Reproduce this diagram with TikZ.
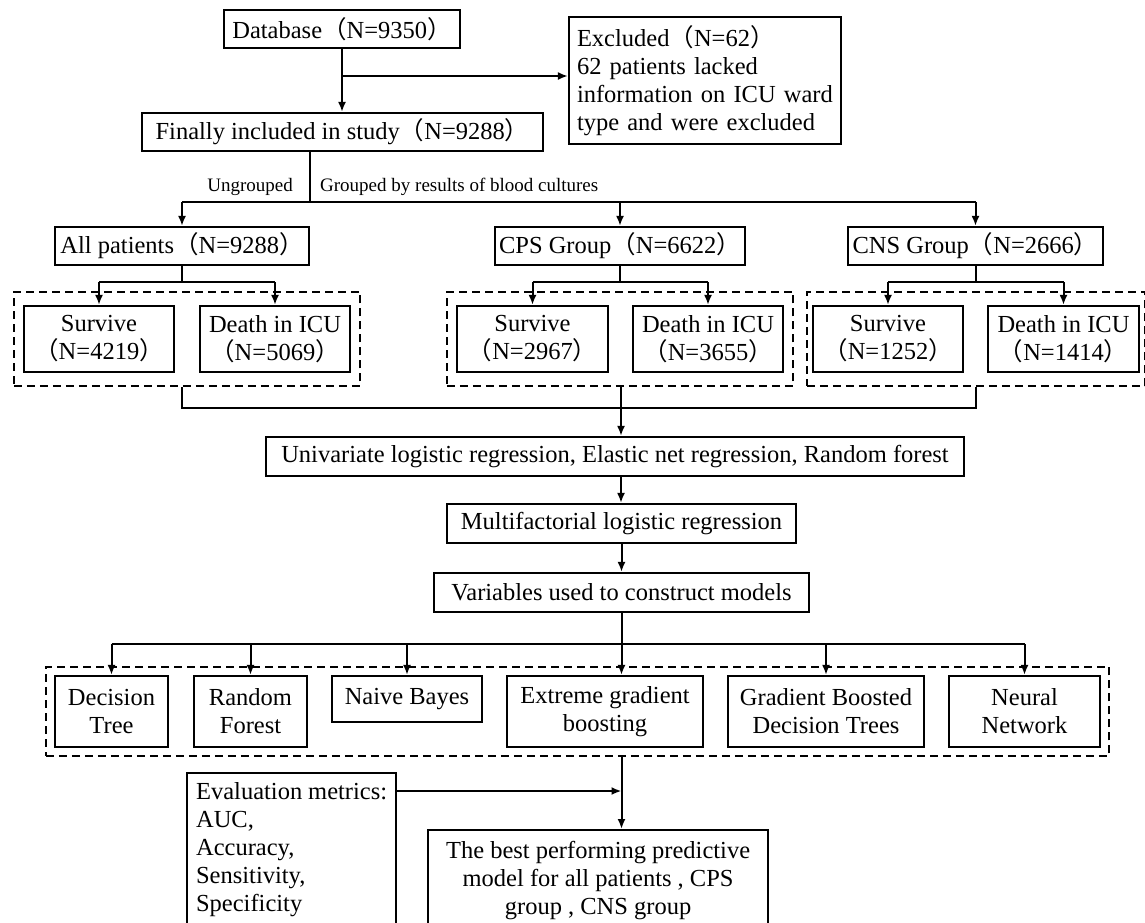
\documentclass[tikz,border=0pt]{standalone}
\usepackage{fontspec}
\setmainfont{Liberation Serif}
\newfontfamily\cjkfont{Noto Sans CJK SC}
\newcommand{\flp}{{\cjkfont （}}
\newcommand{\frp}{{\cjkfont ）}}
\usepackage{tikz}
\usetikzlibrary{arrows.meta}
\usetikzlibrary{fit}

\begin{document}
\begin{tikzpicture}[x=1pt,y=-1pt,
   box/.style={draw,rectangle,line width=2.2pt,inner sep=0pt,align=center,
     font=\fontsize{24.5}{28}\selectfont},
   outcome/.style={box,minimum width=150pt,minimum height=66pt},
   model/.style={box,minimum height=71pt},
   groupbox/.style={draw,rectangle,line width=1.8pt,dash pattern=on 8pt off 5pt,
     inner xsep=9pt,inner ysep=13pt},
   link/.style={line width=2pt},
   arr/.style={link,-{Latex[length=10pt,width=8pt]}},
   note/.style={font=\fontsize{19}{22}\selectfont,inner sep=0pt}]
\path[fill=white,use as bounding box] (0,0) rectangle (1145,922);
\clip (0,0) rectangle (1145,922);

\node[box,minimum width=236pt,minimum height=38pt] (db) at (342,29) {Database\flp N=9350\frp};
\node[box,align=left,text width=256pt,inner sep=8pt,minimum height=123pt] (excl) at (705,80.5)
   {Excluded\flp N=62\frp\\62 patients lacked\\information on ICU ward\\type and were excluded};
\node[box,minimum width=401pt,minimum height=38pt] (fin) at (342.5,132) {Finally included in study\flp N=9288\frp};

\node[note,anchor=east] (ungr) at (293,187) {Ungrouped};
\node[note,anchor=west] (grpd) at (320,187) {Grouped by results of blood cultures};

% groups
\node[box,minimum width=254pt,minimum height=38pt] (all) at (182,246) {All patients\flp N=9288\frp};
\node[box,minimum width=250pt,minimum height=38pt] (cps) at (620,246) {CPS Group\flp N=6622\frp};
\node[box,minimum width=255pt,minimum height=38pt] (cns) at (975.5,246) {CNS Group\flp N=2666\frp};

\node[outcome] (s1) at (99,339) {Survive\\\flp N=4219\frp};
\node[outcome] (d1) at (275,339) {Death in ICU\\\flp N=5069\frp};
\node[outcome,minimum width=151pt] (s2) at (532.5,339) {Survive\\\flp N=2967\frp};
\node[outcome] (d2) at (708,339) {Death in ICU\\\flp N=3655\frp};
\node[outcome] (s3) at (888,339) {Survive\\\flp N=1252\frp};
\node[outcome,minimum width=151pt] (d3) at (1063.5,339) {Death in ICU\\\flp N=1414\frp};

\node[groupbox,fit=(s1)(d1)] (grp1) {};
\node[groupbox,fit=(s2)(d2)] (grp2) {};
\node[groupbox,fit=(s3)(d3),inner xsep=5pt] (grp3) {};

% selection
\node[box,minimum width=698pt,minimum height=39pt] (uni) at (615,456.5)
   {Univariate logistic regression, Elastic net regression, Random forest};
\node[box,minimum width=349pt,minimum height=39pt] (multi) at (621.5,523.5) {Multifactorial logistic regression};
\node[box,minimum width=375pt,minimum height=39pt] (vars) at (621.5,592.5) {Variables used to construct models};

% models
\node[model,minimum width=113pt] (dt) at (111.5,711.5) {Decision\\Tree};
\node[model,minimum width=113pt] (rf) at (250.5,711.5) {Random\\Forest};
\node[box,minimum width=150pt,minimum height=46pt] (nb) at (407,699) {Naive Bayes};
\node[model,minimum width=196pt] (xgb) at (605,711.5) {Extreme gradient\\boosting};
\node[model,minimum width=196pt] (gbdt) at (826,711.5) {Gradient Boosted\\Decision Trees};
\node[model,minimum width=151pt] (nn) at (1024.5,711.5) {Neural\\Network};
\node[groupbox,fit=(dt)(nn),inner xsep=8pt,inner ysep=8pt] (grp4) {};

\node[box,anchor=north west,inner sep=9pt] (eval) at (186,772)
   {\begin{minipage}[t][170pt][t]{191pt}\raggedright
    Evaluation metrics:\\AUC,\\Accuracy,\\Sensitivity,\\Specificity\end{minipage}};
\node[box,anchor=north west,inner xsep=10pt,inner ysep=11pt] (best) at (427,829)
   {\begin{minipage}[t][120pt][t]{320pt}\centering
    The best performing predictive\\model for all patients , CPS\\group , CNS group\end{minipage}};

% connectors
\draw[arr] (db.south) -- (db.south |- fin.north);
\coordinate (exbr) at (342,76);
\draw[arr] (exbr) -- (exbr -| excl.west);

\coordinate (split) at (310,202);
\draw[link] (split |- fin.south) -- (split);
\draw[link] (all.north |- split) -- (cns.north |- split);
\foreach \g in {all,cps,cns}
   \draw[arr] (\g.north |- split) -- (\g.north);

\foreach \g/\s/\d in {all/s1/d1,cps/s2/d2,cns/s3/d3}{
   \draw[link] (\g.south) -- ++(0,16) coordinate (\g-fork);
   \draw[link] (\s.north |- \g-fork) -- (\d.north |- \g-fork);
   \draw[arr] (\s.north |- \g-fork) -- (\s.north);
   \draw[arr] (\d.north |- \g-fork) -- (\d.north);
}

\coordinate (merge) at (621,408);
\draw[link] (all |- grp1.south) -- (all |- merge) -- (cns |- merge) -- (cns |- grp3.south);
\draw[arr] (merge |- grp2.south) -- (merge |- uni.north);
\draw[arr] (merge |- uni.south) -- (merge |- multi.north);
\draw[arr] (multi.south) -- (vars.north);

\coordinate (fan) at (621.5,644);
\draw[link] (vars.south) -- (fan);
\draw[link] (dt.north |- fan) -- (nn.north |- fan);
\foreach \m in {dt,rf,nb,gbdt,nn}
   \draw[arr] (\m.north |- fan) -- (\m.north);
\draw[arr] (fan) -- (fan |- xgb.north);

\draw[arr] (fan |- grp4.south) -- (fan |- best.north);
\coordinate (evalout) at ([yshift=-19pt]eval.north east);
\draw[arr] (evalout) -- (evalout -| fan);
\end{tikzpicture}
\end{document}
